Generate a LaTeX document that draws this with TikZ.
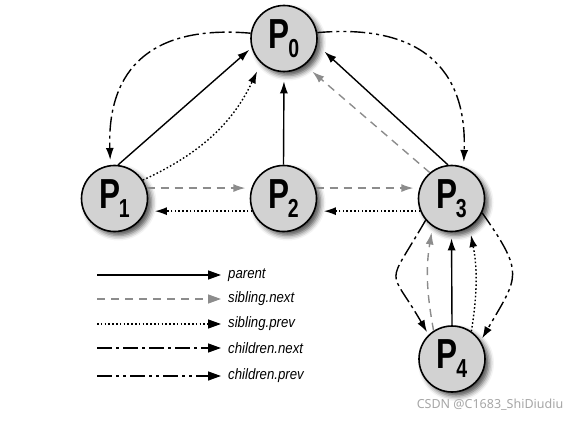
\documentclass[tikz,border=0pt]{standalone}
\usepackage{fontspec}
\setmainfont{Liberation Sans}
\newfontfamily\procfont[FakeStretch=0.75]{Liberation Sans}
\newfontfamily\legfont[FakeStretch=0.88]{Liberation Sans}
\newfontfamily\markfont{Noto Sans}
\usepackage{tikz}
\usetikzlibrary{arrows.meta,shadows.blur}
\newcommand{\pname}[1]{{\procfont\bfseries\fontsize{42}{42}\selectfont P\kern-1.5pt\raisebox{-9pt}{\fontsize{26}{26}\selectfont #1}}}
\tikzset{
  proc/.style     ={circle,draw,line width=1.6pt,fill=gray!35,minimum size=66pt,inner sep=0pt,
                    blur shadow={shadow xshift=4pt,shadow yshift=-4pt,shadow blur radius=5pt,shadow opacity=70}},
  arr/.style      ={line width=1.4pt,-{Latex[length=12pt,width=8pt]}},
  parentarr/.style={arr},
  nextarr/.style  ={arr,gray!90,dash pattern=on 8pt off 6pt},
  prevarr/.style  ={arr,dash pattern=on 1.6pt off 2.2pt},
  cnextarr/.style ={arr,dash pattern=on 15pt off 4pt on 3pt off 4pt},
  cprevarr/.style ={arr,dash pattern=on 15pt off 4pt on 3pt off 4pt on 3pt off 4pt},
  legtip/.style   ={-{Triangle[length=13pt,width=9pt]}},
  lbl/.style      ={font=\legfont\itshape\fontsize{15}{15}\selectfont,anchor=west,inner sep=0pt},
}
\begin{document}
\begin{tikzpicture}[x=1pt,y=1pt]
  \useasboundingbox (0,0) rectangle (577,-422);
  % processes
  \node[proc] (P0) at (284,-38.5)  {\pname{0}};
  \node[proc] (P1) at (114.5,-198.5) {\pname{1}};
  \node[proc] (P2) at (283.5,-198.5) {\pname{2}};
  \node[proc] (P3) at (451.5,-198.5) {\pname{3}};
  \node[proc] (P4) at (452,-359)   {\pname{4}};
  % parent links
  \draw[parentarr,shorten >=3pt] (P1.84) -- (P0.196);
  \draw[parentarr,shorten >=9pt] (P2.north) -- (P0.south);
  \draw[parentarr,shorten >=10pt] (P3.96) -- (P0.-11);
  \draw[parentarr,shorten >=6pt] (P4.north) -- (P3.south);
  % siblings
  \draw[nextarr,shorten >=6pt] (P1.18) -- (P2.162);
  \draw[nextarr,shorten >=6pt] (P2.18) -- (P3.162);
  \draw[nextarr,shorten >=10pt] (P3.130) -- (P0.-52);
  \draw[nextarr,shorten >=6pt] (P4.123) to[bend left=10] (P3.236);
  \draw[prevarr,shorten >=9pt] (P2.202) -- (P1.-22);
  \draw[prevarr,shorten >=9pt] (P3.202) -- (P2.-22);
  \draw[prevarr,shorten >=9pt] (P1.33) to[bend right=20] (P0.227);
  \draw[prevarr,shorten >=8pt] (P4.55) to[bend right=10] (P3.-58);
  % children
  \draw[cnextarr,shorten >=5pt] (P0.171) to[out=175,in=92,looseness=1.3] (P1.97);
  \draw[cnextarr,shorten >=3pt] (P3.220) to[out=240,in=120,looseness=1.8] (P4.134);
  \draw[cprevarr,shorten >=5pt] (P0.10) to[out=5,in=88,looseness=1.3] (P3.69);
  \draw[cprevarr,shorten >=3pt] (P3.-25) to[out=-55,in=60,looseness=1.5] (P4.32);
  % legend
  \foreach \st/\txt/\y [count=\i] in {parentarr/parent/275, nextarr/sibling.next/299,
                                      prevarr/sibling.prev/324, cnextarr/children.next/348,
                                      cprevarr/children.prev/376}{
    \coordinate (ls\i) at (97,-\y);
    \node[lbl] (leg\i) at (228,-\y) {\txt};
    \draw[\st,legtip,shorten >=7pt] (ls\i) -- (leg\i.west);
  }
  \node[font=\markfont\fontsize{12.5}{12.5}\selectfont,text=gray!70] (mark) at (490,-405) {CSDN @C1683\_ShiDiudiu};
\end{tikzpicture}
\end{document}
